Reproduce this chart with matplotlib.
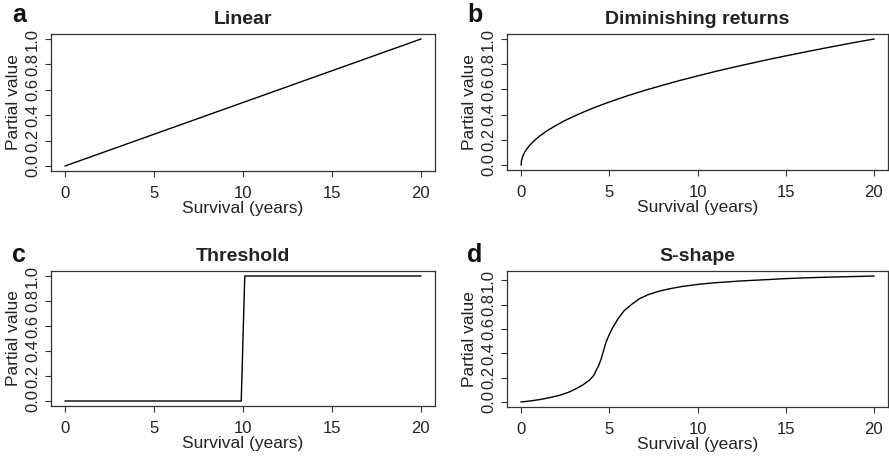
import numpy as np
import matplotlib
matplotlib.use("Agg")
import matplotlib.pyplot as plt

# --- DATA ---------------------------------------------------------------------
linear_x = [0, 20]
linear_y = [0.0, 1.0]

dim_x = [0, 0.02, 0.05, 0.1, 0.2, 0.3, 0.5, 0.75, 1, 1.25, 1.5, 2, 2.5, 3, 3.5,
         4, 4.5, 5, 6, 7, 8, 9, 10, 11, 12, 13, 14, 15, 16, 17, 18, 19, 20]
dim_y = [0.0, 0.032, 0.050, 0.071, 0.100, 0.122, 0.158, 0.194, 0.224, 0.250,
         0.274, 0.316, 0.354, 0.387, 0.418, 0.447, 0.474, 0.500, 0.548, 0.592,
         0.632, 0.671, 0.707, 0.742, 0.775, 0.806, 0.837, 0.866, 0.894, 0.922,
         0.949, 0.975, 1.0]

thr_x = [0, 9.9, 10.1, 20]
thr_y = [0.0, 0.0, 1.0, 1.0]

s_x = [0, 0.5, 1.07, 1.6, 2.19, 2.7, 3.13, 3.5, 3.88, 4.1, 4.25, 4.4, 4.53, 4.67,
       4.81, 5.0, 5.19, 5.5, 5.84, 6.25, 6.69, 7.2, 7.81, 8.4, 9.12, 10.06, 11,
       12.5, 14, 15, 16.5, 18, 20]
s_y = [0.0, 0.008, 0.02, 0.035, 0.055, 0.08, 0.11, 0.14, 0.18, 0.215, 0.258,
       0.30, 0.35, 0.42, 0.49, 0.555, 0.61, 0.685, 0.75, 0.80, 0.847, 0.882,
       0.91, 0.93, 0.949, 0.967, 0.98, 0.995, 1.006, 1.014, 1.022, 1.028, 1.035]

panels = [
    ("a", "Linear", linear_x, linear_y),
    ("b", "Diminishing returns", dim_x, dim_y),
    ("c", "Threshold", thr_x, thr_y),
    ("d", "S-shape", s_x, s_y),
]

x_ticks = [0, 5, 10, 15, 20]
y_ticks = [0.0, 0.2, 0.4, 0.6, 0.8, 1.0]

# --- LAYOUT (pixel boxes: left, top, right, bottom) ---------------------------
W, H = 889, 459
boxes = [
    (51, 34, 435, 171),
    (507, 34, 888, 170),
    (51, 271, 435, 406),
    (507, 271, 888, 407),
]
letter_pos = [(12, 22), (467, 22), (12, 262), (467, 262)]

plt.rcParams["font.family"] = ["Liberation Sans", "DejaVu Sans"]

fig = plt.figure(figsize=(W / 100, H / 100), dpi=100)

for (letter, title, xs, ys), (l, t, r, b), (lx, ly) in zip(panels, boxes, letter_pos):
    ax = fig.add_axes([l / W, 1 - b / H, (r - l) / W, (b - t) / H])
    ax.plot(xs, ys, color="black", linewidth=1.0)
    ax.margins(x=0.04, y=0.04)
    ax.set_xticks(x_ticks)
    ax.set_yticks(y_ticks)
    ax.set_yticklabels([f"{v:.1f}" for v in y_ticks])
    ax.tick_params(axis="both", length=4, width=0.8, color="#333333",
                   labelsize=12, direction="out", labelcolor="#222222")
    ax.tick_params(axis="x", pad=7)
    ax.tick_params(axis="y", pad=4, labelrotation=90)
    for lbl in ax.get_yticklabels():
        lbl.set_va("center")
    for sp in ax.spines.values():
        sp.set_linewidth(0.9)
        sp.set_color("#333333")
    ax.set_xlabel("Survival (years)", fontsize=12.5, labelpad=0, color="#222222")
    ax.set_ylabel("Partial value", fontsize=12.5, labelpad=3, color="#222222")
    ax.set_title(title, fontsize=14, fontweight="bold", pad=7, color="#222222")
    fig.text(lx / W, 1 - ly / H, letter, fontsize=18, fontweight="bold",
             ha="left", va="baseline", color="#111111")

fig.savefig("out.png", dpi=100)
